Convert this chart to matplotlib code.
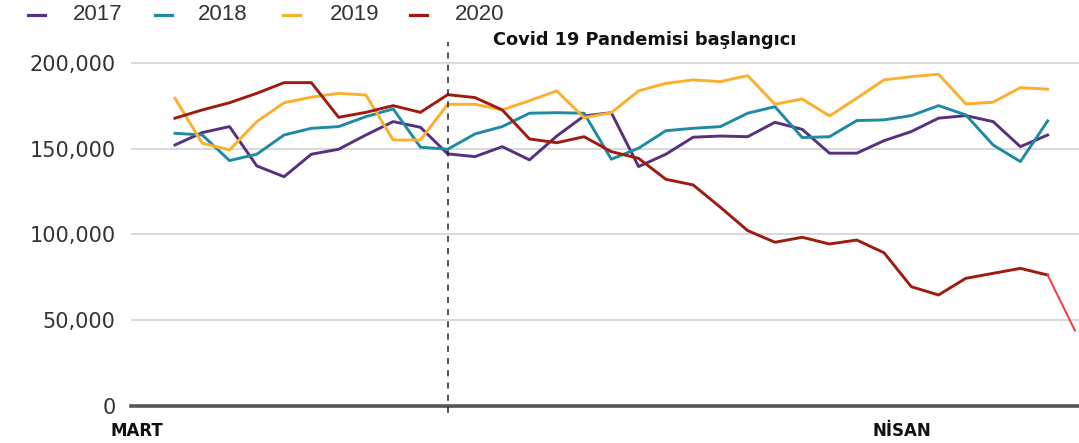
import matplotlib
matplotlib.use("Agg")
import matplotlib.pyplot as plt
from matplotlib.lines import Line2D
import numpy as np

years = ["2017", "2018", "2019", "2020"]
colors = ["#57307f", "#1f8aa3", "#fbb02d", "#9e1b10"]

v2017 = [152.1, 159.3, 162.8, 139.9, 133.6, 146.7, 149.6, 157.9, 165.7, 162.4, 146.9,
         145.3, 151.1, 143.4, 157.3, 169.0, 170.9, 139.5, 146.7, 156.6, 157.3, 156.9,
         165.3, 161.2, 147.3, 147.3, 154.6, 159.9, 167.7, 169.2, 165.7, 151.1, 157.9]
v2018 = [158.9, 157.9, 143.0, 146.7, 157.9, 161.8, 162.8, 168.6, 173.1, 150.8, 149.6,
         158.5, 162.8, 170.6, 170.9, 170.6, 143.8, 150.2, 160.4, 161.8, 162.8, 170.6,
         174.4, 156.4, 156.9, 166.3, 166.7, 169.2, 175.0, 169.6, 152.1, 142.4, 166.1]
v2019 = [179.3, 153.1, 149.2, 165.7, 176.7, 179.9, 182.2, 181.2, 155.0, 155.0, 175.8,
         175.8, 172.5, 177.9, 183.6, 168.0, 170.9, 183.6, 188.0, 190.0, 189.0, 192.5,
         175.8, 178.9, 169.0, 179.3, 190.0, 191.9, 193.3, 176.0, 177.0, 185.5, 184.6]
v2020 = [167.7, 172.5, 176.7, 182.2, 188.4, 188.4, 168.2, 171.1, 175.0, 171.1, 181.4,
         179.7, 172.5, 155.6, 153.4, 156.9, 148.2, 144.3, 132.1, 128.8, 115.8, 102.2,
         95.4, 98.3, 94.4, 96.7, 89.3, 69.5, 64.7, 74.4, 77.3, 80.2, 76.3]
v2020_last = [76.3, 44.0]

yticks = [0, 50000, 100000, 150000, 200000]
ytick_labels = ["0", "50,000", "100,000", "150,000", "200,000"]
month_labels = ["MART", "NİSAN"]
annotation = "Covid 19 Pandemisi başlangıcı"
pandemic_index = 10

W, H = 1079, 443
fig = plt.figure(figsize=(W / 100, H / 100), dpi=100)
ax = fig.add_axes([131 / W, (H - 406) / H, (1079 - 131) / W, (406 - 37) / H])

x = np.arange(len(v2017))
series = [v2017, v2018, v2019, v2020]
for vals, c in zip(series, colors):
    ax.plot(x, np.array(vals) * 1000, color=c, lw=2.1, solid_joinstyle="round", zorder=3)
ax.plot([len(v2020) - 1, len(v2020)], np.array(v2020_last) * 1000, color="#f23a40",
        lw=1.4, zorder=3)

ax.set_xlim(-1.613, 33.15)
ax.set_ylim(0, 215000)
for s in ax.spines.values():
    s.set_visible(False)
ax.set_xticks([])
ax.set_yticks(yticks)
ax.set_yticklabels(ytick_labels, fontsize=15, color="#333333", family="DejaVu Sans")
ax.tick_params(axis="y", length=0, pad=11)
for t in yticks[1:]:
    ax.axhline(t, color="#d2d2d2", lw=1.2, zorder=1)
ax.axhline(0, color="#555555", lw=2.6, zorder=4, clip_on=False)

ax.plot([pandemic_index, pandemic_index], [-4000, 212000], color="#222222", lw=1.1,
        ls=(0, (4, 4)), clip_on=False, zorder=5)

fig.text(645 / W, 1 - 40 / H, annotation, fontsize=12.8, fontweight="bold",
         family="DejaVu Sans", ha="center", va="center", color="#111111")

fig.text(110 / W, 1 - 431 / H, month_labels[0], fontsize=12, fontweight="bold",
         family="DejaVu Sans", ha="left", va="center", color="#111111")
fig.text(873 / W, 1 - 431 / H, month_labels[1], fontsize=12, fontweight="bold",
         family="DejaVu Sans", ha="left", va="center", color="#111111")

# legend
leg_marker_x = [28, 155, 283, 410]
leg_text_x = [73, 198, 330, 455]
for mx, tx, lab, c in zip(leg_marker_x, leg_text_x, years, colors):
    fig.add_artist(Line2D([mx / W, (mx + 17) / W], [1 - 15 / H, 1 - 15 / H], color=c, lw=2.3))
    fig.text(tx / W, 1 - 15 / H, lab, fontsize=16, family="Liberation Sans",
             ha="left", va="center", color="#333333")

fig.savefig("out.png", dpi=100)
